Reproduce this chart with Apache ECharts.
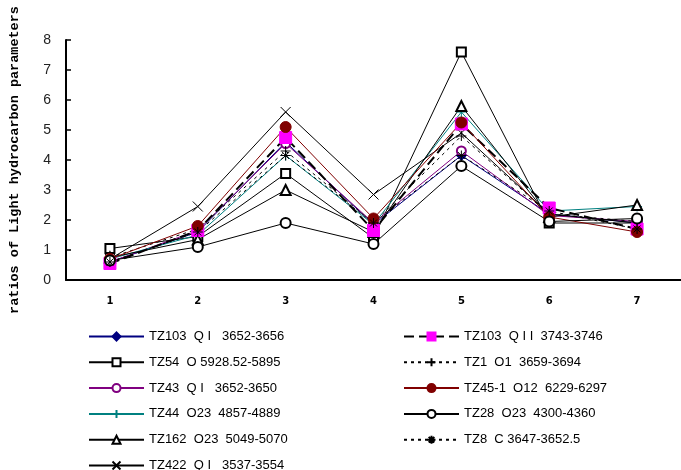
<!DOCTYPE html>
<html>
<head>
<meta charset="UTF-8">
<title>Light hydrocarbon ratios</title>
<script src="https://cdn.jsdelivr.net/npm/echarts@6/dist/echarts.min.js"></script>
<style>
  html, body { margin: 0; padding: 0; background: #fff; }
  #main { width: 681px; height: 470px; }
</style>
</head>
<body>
<div id="main"></div>
<script>
// categories on the x axis
var categories = ['1', '2', '3', '4', '5', '6', '7'];

// series names (legend text)
var names = [
  'TZ103  Q I   3652-3656',
  'TZ54  O 5928.52-5895',
  'TZ43  Q I   3652-3650',
  'TZ44  O23  4857-4889',
  'TZ162  O23  5049-5070',
  'TZ422  Q I   3537-3554',
  'TZ103  Q I I  3743-3746',
  'TZ1  O1  3659-3694',
  'TZ45-1  O12  6229-6297',
  'TZ28  O23  4300-4360',
  'TZ8  C 3647-3652.5'
];

// values
var tz103a = [0.6, 1.6, 4.6, 1.85, 4.15, 2.2, 1.9];
var tz54   = [1.05, 1.45, 3.55, 1.4, 7.6, 1.9, 1.9];
var tz43   = [0.6, 1.65, 4.55, 1.9, 4.3, 2.15, 1.95];
var tz44   = [0.7, 1.5, 4.15, 1.85, 5.6, 2.3, 2.45];
var tz162  = [0.75, 1.35, 3.0, 1.6, 5.8, 2.1, 2.5];
var tz422  = [0.7, 2.45, 5.6, 2.85, 4.9, 2.2, 1.9];
var tz103b = [0.55, 1.65, 4.75, 1.65, 5.2, 2.4, 1.7];
var tz1    = [0.75, 1.7, 4.3, 1.9, 4.8, 2.2, 1.95];
var tz451  = [0.7, 1.8, 5.1, 2.05, 5.25, 2.1, 1.6];
var tz28   = [0.65, 1.1, 1.9, 1.2, 3.8, 1.95, 2.05];
var tz8    = [0.6, 1.6, 4.15, 1.9, 4.15, 2.3, 1.7];

var plusPath = 'path://M0,5L10,5M5,0L5,10';
var crossPath = 'path://M0,0L10,10M10,0L0,10';
var starPath = 'path://M0,5L10,5M5,0L5,10M1.5,1.5L8.5,8.5M8.5,1.5L1.5,8.5';

function mk(name, data, color, symbol, size, lineType, lineWidth, symColor) {
  return {
    name: name,
    type: 'line',
    data: data,
    symbol: symbol,
    symbolSize: size,
    showSymbol: true,
    animation: false,
    lineStyle: { color: color, width: lineWidth || 1, type: lineType || 'solid' },
    itemStyle: { color: symColor || color, borderColor: symColor || color, borderWidth: 1 }
  };
}

var series = [
  mk(names[0], tz103a, '#000080', 'diamond', 10),
  mk(names[1], tz54, '#000000', 'emptyRect', 9),
  mk(names[2], tz43, '#800080', 'emptyCircle', 9),
  mk(names[3], tz44, '#008080', plusPath, 10),
  mk(names[4], tz162, '#000000', 'emptyTriangle', 10),
  mk(names[5], tz422, '#000000', crossPath, 10),
  mk(names[6], tz103b, '#000000', 'rect', 12, [10, 5], 2, '#ff00ff'),
  mk(names[7], tz1, '#000000', plusPath, 10, [3, 4]),
  mk(names[8], tz451, '#800000', 'circle', 11),
  mk(names[9], tz28, '#000000', 'emptyCircle', 10),
  mk(names[10], tz8, '#000000', starPath, 10, [3, 4])
];

var chart = echarts.init(document.getElementById('main'));
var legendText = { fontFamily: 'Liberation Sans', fontSize: 13, color: '#000' };

chart.setOption({
  backgroundColor: '#ffffff',
  animation: false,
  grid: { left: 62, top: 40, width: 630, height: 240 },
  legend: [
    {
      data: names.slice(0, 6), orient: 'vertical', left: 83, top: 325, height: 200,
      itemWidth: 55, itemHeight: 10, itemGap: 12.8, textStyle: legendText
    },
    {
      data: names.slice(6), orient: 'vertical', left: 398, top: 325, height: 200,
      itemWidth: 55, itemHeight: 10, itemGap: 12.8, textStyle: legendText
    }
  ],
  xAxis: {
    type: 'category',
    data: categories,
    boundaryGap: true,
    axisLine: { lineStyle: { color: '#000', width: 2 } },
    axisTick: { inside: true, length: 4, lineStyle: { color: '#000', width: 1.5 } },
    axisLabel: { color: '#000', fontSize: 10, fontWeight: 'bold', fontFamily: 'DejaVu Sans', margin: 16 },
    splitLine: { show: false }
  },
  yAxis: {
    type: 'value',
    min: 0,
    max: 8,
    interval: 1,
    name: 'ratios of Light hydrocarbon parameters',
    nameLocation: 'middle',
    nameRotate: 90,
    nameGap: 44,
    nameTextStyle: { fontFamily: 'Liberation Mono', fontSize: 13.5, fontWeight: 'bold', color: '#000' },
    axisLine: { show: true, lineStyle: { color: '#000', width: 2 } },
    axisTick: { show: true, inside: true, length: 5, lineStyle: { color: '#000', width: 1.5 } },
    axisLabel: { color: '#222', fontSize: 14, fontFamily: 'Liberation Sans', margin: 15 },
    splitLine: { show: false }
  },
  series: series
});
</script>
</body>
</html>
